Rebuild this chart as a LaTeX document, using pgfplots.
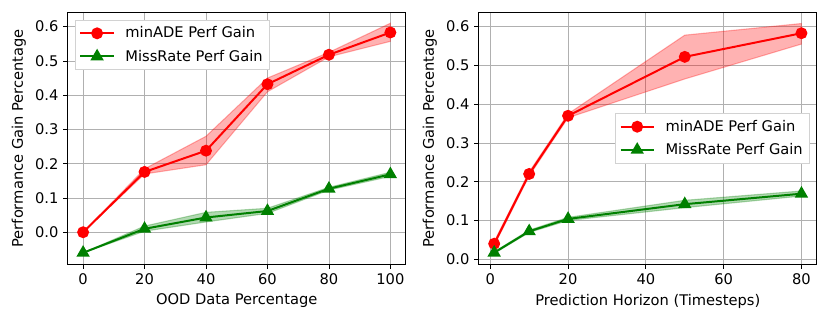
\documentclass[border=0pt]{standalone}
\usepackage{fontspec}
\setmainfont{DejaVu Sans}
\usepackage{pgfplots}
\pgfplotsset{compat=1.18}
\usepackage{pgfplotstable}

\definecolor{mred}{RGB}{255,0,0}
\definecolor{mgreen}{RGB}{0,128,0}
\definecolor{gridgray}{RGB}{176,176,176}

% mean values
\pgfplotstableread{
x   m
0   0.000
20  0.176
40  0.238
60  0.432
80  0.518
100 0.583
}\oodade
\pgfplotstableread{
x   m
0   -0.060
20  0.010
40  0.043
60  0.062
80  0.127
100 0.169
}\oodmr
\pgfplotstableread{
x   m
1   0.040
10  0.220
20  0.370
50  0.522
80  0.583
}\horade
\pgfplotstableread{
x   m
1   0.017
10  0.072
20  0.104
50  0.142
80  0.169
}\hormr

% spread bands: upper edge left to right, then lower edge back
\pgfplotstableread{
x   y
0   0.000
20  0.185
40  0.280
60  0.450
80  0.525
100 0.610
100 0.557
80  0.512
60  0.410
40  0.197
20  0.170
0   0.000
}\oodadeband
\pgfplotstableread{
x   y
0   -0.060
20  0.018
40  0.058
60  0.070
80  0.131
100 0.175
100 0.163
80  0.123
60  0.055
40  0.030
20  0.003
0   -0.060
}\oodmrband
\pgfplotstableread{
x   y
1   0.045
10  0.225
20  0.375
50  0.578
80  0.608
80  0.555
50  0.465
20  0.365
10  0.215
1   0.035
}\horadeband
\pgfplotstableread{
x   y
1   0.019
10  0.075
20  0.108
50  0.152
80  0.176
80  0.163
50  0.133
20  0.100
10  0.069
1   0.015
}\hormrband

\pgfplotsset{
  perf/.style={
    scale only axis, width=253.5pt, height=189pt,
    grid=major,
    grid style={line width=0.6pt, draw=gridgray},
    axis line style={line width=0.6pt},
    tick style={line width=0.6pt, black},
    tick align=outside, tickpos=left,
    major tick length=3.5pt,
    /pgf/number format/assume math mode=true,
    tick label style={font=\fontsize{11}{13}\selectfont},
    label style={font=\fontsize{11}{13}\selectfont},
    ylabel={Performance Gain Percentage},
    ytick={0,0.1,0.2,0.3,0.4,0.5,0.6},
    yticklabel style={/pgf/number format/.cd, fixed, fixed zerofill, precision=1},
    legend cell align=left,
    legend style={font=\fontsize{11}{13}\selectfont, draw=gray!35,
      inner sep=3pt, row sep=3.5pt},
    legend image code/.code={
      \draw[mark repeat=2, mark phase=2] plot coordinates {(0pt,0pt) (12.5pt,0pt) (25pt,0pt)};
      \path (31pt,0pt);
    },
  },
  ade/.style={mred, line width=1.5pt, mark=*, mark size=3.7pt, mark options={solid}},
  mr/.style={mgreen, line width=1.5pt, mark=triangle*, mark size=4.3pt, mark options={solid}},
  band/.style={fill=#1, fill opacity=0.3, draw=#1, draw opacity=0.3, line width=0.8pt, forget plot},
}

\begin{document}
\begin{tikzpicture}
\path[use as bounding box] (-50.8pt,-43.5pt) rectangle (571.7pt,198.2pt);
\begin{axis}[perf,
  xmin=-5, xmax=105, ymin=-0.0935, ymax=0.642,
  xtick={0,20,40,60,80,100},
  xlabel={OOD Data Percentage},
  legend style={at={(rel axis cs:0.022,0.97)}, anchor=north west},
]
\addplot[band=mred] table[x=x, y=y] {\oodadeband} -- cycle;
\addplot[band=mgreen] table[x=x, y=y] {\oodmrband} -- cycle;
\addplot[ade] table[x=x, y=m] {\oodade};
\addplot[mr] table[x=x, y=m] {\oodmr};
\legend{minADE Perf Gain, MissRate Perf Gain}
\end{axis}

\begin{axis}[perf, at={(308.3pt,0pt)},
  xmin=-2.95, xmax=83.95, ymin=-0.013, ymax=0.637,
  xtick={0,20,40,60,80},
  xlabel={Prediction Horizon (Timesteps)},
  legend style={at={(rel axis cs:0.979,0.5)}, anchor=east},
]
\addplot[band=mred] table[x=x, y=y] {\horadeband} -- cycle;
\addplot[band=mgreen] table[x=x, y=y] {\hormrband} -- cycle;
\addplot[ade] table[x=x, y=m] {\horade};
\addplot[mr] table[x=x, y=m] {\hormr};
\legend{minADE Perf Gain, MissRate Perf Gain}
\end{axis}
\end{tikzpicture}
\end{document}
